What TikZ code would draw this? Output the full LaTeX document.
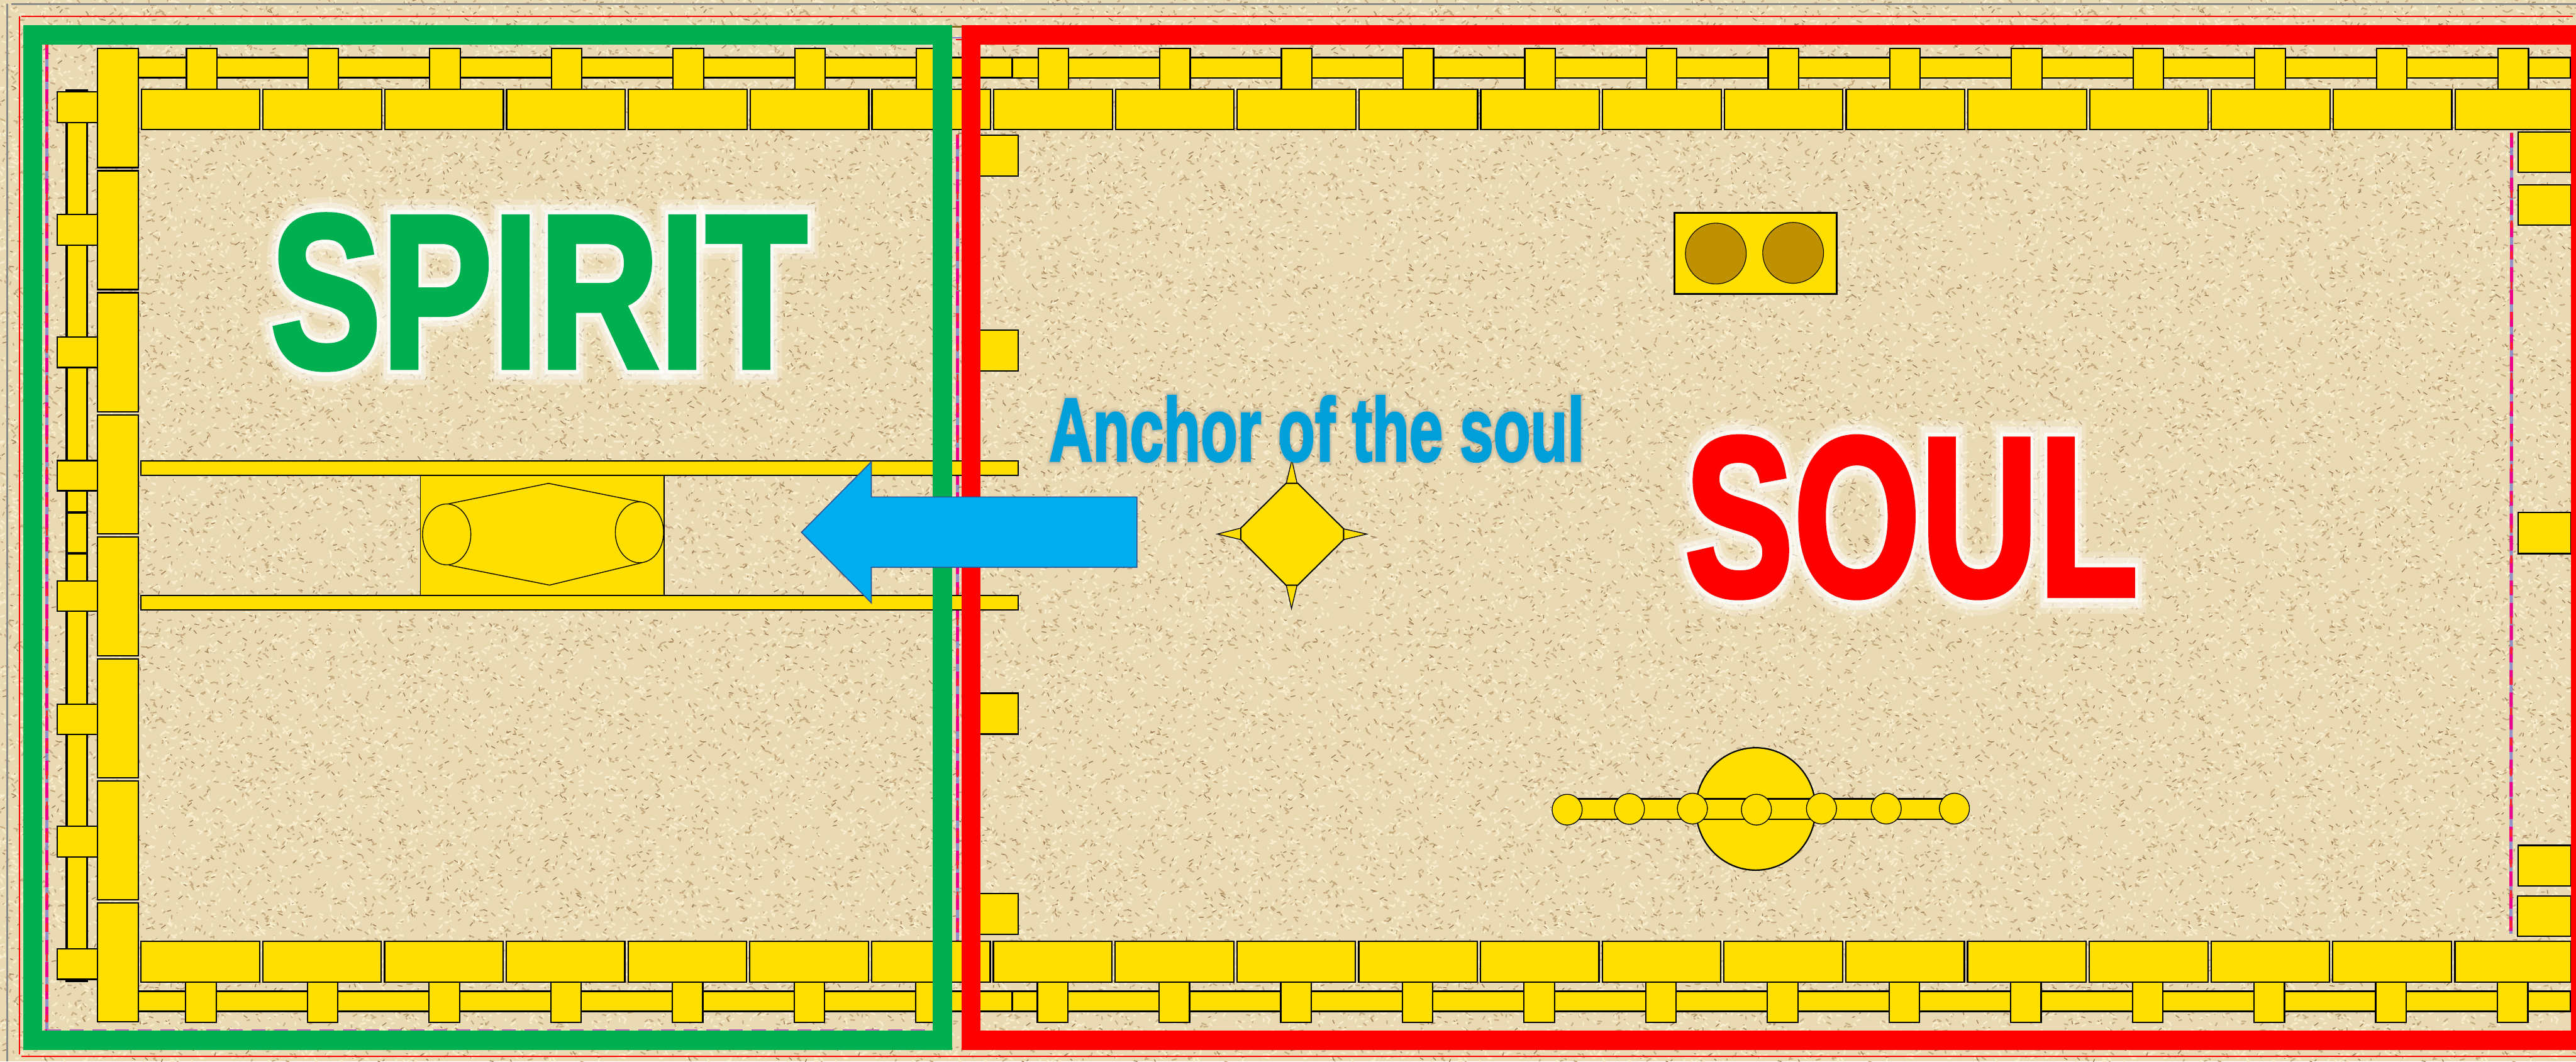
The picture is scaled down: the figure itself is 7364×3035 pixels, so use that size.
\documentclass[tikz,border=0pt]{standalone}
\usepackage{graphicx}
\usepackage{fontspec}
\setmainfont{Liberation Sans}
\newfontfamily\glowa[BoldFeatures={FakeBold=6}]{Liberation Sans}
\newfontfamily\glowb[BoldFeatures={FakeBold=11}]{Liberation Sans}
\newfontfamily\glowc[BoldFeatures={FakeBold=16}]{Liberation Sans}
\newfontfamily\solidf[BoldFeatures={FakeBold=2.4}]{Liberation Sans}
\definecolor{sandbase}{HTML}{EADAB3}
\definecolor{goldy}{HTML}{FFDF00}
\definecolor{framegreen}{HTML}{00B050}
\definecolor{framered}{HTML}{FF0000}
\definecolor{arrowblue}{HTML}{00AEEF}
\definecolor{arrowedge}{HTML}{2F5597}
\definecolor{ancblue}{HTML}{009FD9}
\definecolor{seatbrown}{HTML}{BF9000}
\definecolor{edgegray}{HTML}{8A8A8A}
\newlength{\ux}\setlength{\ux}{0.01cm}
\newsavebox\sandtile
\makeatletter
\newcount\spk
\newcommand\sandspecks[5]{%
 \pgfsys@beginscope
 \pgfsys@invoke{#2 #3 #4 RG }%
 \pgfsys@setlinewidth{#5\ux}%
 \pgfsys@roundcap
 \spk=0
 \loop\ifnum\spk<#1
  \pgfmathrandominteger\spx{0}{1841}%
  \pgfmathrandominteger\spy{0}{1012}%
  \pgfmathrandominteger\spa{-12}{12}%
  \pgfmathrandominteger\spb{-9}{9}%
  \pgfsys@moveto{0.284528\dimexpr\spx pt\relax}{0.284528\dimexpr\spy pt\relax}%
  \pgfsys@lineto{0.284528\dimexpr\numexpr\spx+\spa\relax pt\relax}{0.284528\dimexpr\numexpr\spy+\spb\relax pt\relax}%
  \advance\spk by 1
 \repeat
 \pgfsys@stroke
 \pgfsys@endscope}
\makeatother
\pgfmathsetseed{4711}
\setbox\sandtile=\hbox{\pgfpicture
  \pgfpathrectangle{\pgfpointorigin}{\pgfpoint{1841\ux}{1011.75\ux}}\pgfusepath{use as bounding box}%
  \sandspecks{2000}{0.78}{0.67}{0.50}{4}%
  \sandspecks{600}{0.62}{0.49}{0.33}{2.6}%
  \sandspecks{3000}{0.97}{0.93}{0.80}{5}%
 \endpgfpicture}
\tikzset{
 x=0.01cm,y=-0.01cm,
 gold/.style={draw=black,fill=goldy,line width=4\ux,line join=miter},
 goldthin/.style={draw=black,fill=goldy,line width=3\ux},
 goldfine/.style={draw=black,fill=goldy,line width=2.4\ux},
 lbl/.style={inner sep=0pt,outer sep=0pt,anchor=center},
}
\newcommand\dashline[2]{%
 \draw[line width=9\ux,color=blue!45!gray!70,opacity=.8] #1 -- #2;
 \draw[line width=9\ux,color=magenta,dash pattern=on 42\ux off 22\ux] #1 -- #2;
 \draw[line width=6\ux,color=red!85!white,dash pattern=on 22\ux off 65\ux,dash phase=10\ux] #1 -- #2;
}
\begin{document}
\begin{tikzpicture}
\useasboundingbox (0,0) rectangle (7364,3035);
\fill[sandbase] (0,0) rectangle (7364,3035);
\foreach \i in {0,...,3}\foreach \j in {1,2,3}
  \node[inner sep=0pt,outer sep=0pt,anchor=south west] (tile\i\j) at ({1841*\i},{1011.67*\j}) {\usebox\sandtile};
% outer thin lines
\draw[edgegray,line width=5\ux] (32,11) -- (7364,11);
\draw[edgegray,line width=5\ux] (20,11) -- (20,3035);
\draw[framered,line width=4\ux] (62,47) -- (7355,47);
\draw[framered,line width=4\ux] (56,47) -- (56,3015);
\draw[framered,line width=4\ux] (62,3020) -- (7364,3020);
% dashed enclosure lines
\dashline{(134,127)}{(134,2946)}
\dashline{(2737,384)}{(2737,2690)}
\dashline{(7180,380)}{(7178,2670)}
\draw[magenta!60!blue!60,line width=3\ux,dash pattern=on 40\ux off 25\ux] (134,2945) -- (2667,2945);
\draw[blue!45!gray!70,line width=5\ux] (2722,108) -- (2749,108);
\draw[red,line width=4\ux] (2732,113) -- (2749,113);
\fill[black!45!brown!80!yellow] (2722,73) rectangle (2749,79);
% rear rod
\draw[gold,line width=7\ux] (191,258) rectangle (249,1466);
\draw[gold,line width=7\ux] (191,1466) rectangle (249,1582);
\draw[gold,line width=7\ux] (191,1582) rectangle (249,2804);
% top and bottom rods
\draw[gold,line width=5\ux] (395,164) rectangle (2894,222);
\draw[gold,line width=5\ux] (2894,165) rectangle (7349,223);
\draw[gold,line width=5\ux] (395,2834) rectangle (2894,2892);
\draw[gold,line width=5\ux] (2894,2834) rectangle (7349,2892);
% stubs on the rear
\foreach \yy/\hh in {263/351,613/701,963/1051,1317/1403,1661/1747,2013/2100,2363/2450,2713/2800}
  \draw[gold] (163,\yy) rectangle (278,\hh);
% posts at rear
\foreach \i in {0,...,7}
  \draw[gold] (278,{139+349*\i}) rectangle (395,{479+349*\i});
% pegs
\foreach \i in {0,...,19}{
  \draw[gold] ({533+347.8*\i},139) rectangle ({620+347.8*\i},255);
  \draw[gold] ({531+347.8*\i},2808) rectangle ({618+347.8*\i},2923);
}
% boards
\foreach \i in {0,...,18}{
  \draw[gold] ({404+348.1*\i},255) rectangle ({743+348.1*\i},370);
  \draw[gold] ({403+348.1*\i},2692) rectangle ({742+348.1*\i},2808);
}
\draw[gold] (7019,255) rectangle (7349,370);
\draw[gold] (7018,2692) rectangle (7349,2808);
% centre-line boards
\foreach \yy/\hh in {386/503,944/1061,1982/2099,2555/2672}
  \draw[gold] (2770,\yy) rectangle (2910,\hh);
% right-hand boards
\draw[gold] (7198,378) rectangle (7349,493);
\draw[gold] (7199,528) rectangle (7349,644);
\draw[gold] (7199,1465) rectangle (7349,1583);
\draw[gold] (7199,2417) rectangle (7349,2533);
\draw[gold] (7197,2562) rectangle (7349,2677);
% carrying poles and ark
\draw[goldthin] (1202,1359) rectangle (1899,1703);
\draw[gold,line width=3.5\ux] (403,1317) rectangle (2910,1359);
\draw[gold,line width=3.5\ux] (402,1703) rectangle (2910,1744);
\draw[black,line width=2.5\ux] (1280,1441) -- (1568,1382) -- (1846,1438);
\draw[black,line width=2.5\ux] (1284,1616) -- (1571,1673) -- (1835,1609);
\draw[goldfine] (1277,1528) ellipse (69 and 87);
\draw[goldfine] (1828,1522) ellipse (69 and 87);
% incense altar
\draw[goldfine] (3693,1315) -- (3708,1382) -- (3677,1382) -- cycle;
\draw[goldfine] (3692,1740) -- (3708,1673) -- (3677,1673) -- cycle;
\draw[goldfine] (3480,1527) -- (3547,1510) -- (3547,1543) -- cycle;
\draw[goldfine] (3907,1527) -- (3841,1512) -- (3841,1543) -- cycle;
\draw[gold,line width=3.5\ux] (3676,1382) -- (3710,1382) -- (3841,1512) -- (3841,1543) -- (3710,1673) -- (3676,1673) -- (3547,1543) -- (3547,1510) -- cycle;
% table of shewbread
\draw[gold,line width=5\ux] (4787,608) rectangle (5251,841);
\draw[draw=black,fill=seatbrown,line width=2\ux] (4905,725) ellipse (87 and 87);
\draw[draw=black,fill=seatbrown,line width=2\ux] (5126,723) ellipse (87 and 87);
% lampstand
\draw[gold] (5019,2313) ellipse (171 and 175);
\draw[gold,line width=4\ux] (4480,2284) rectangle (5587,2343);
\foreach \cx/\cy in {4480/2315,4658/2313,4838/2312,5021/2315,5207/2312,5392/2312,5587/2312}
  \draw[goldfine] (\cx,\cy) ellipse (43 and 44);
% frames
\draw[framegreen,line width=55\ux] (93.5,100) rectangle (2694.5,2974);
\draw[framered,line width=55\ux] (2776,100) -- (7380,100);
\draw[framered,line width=55\ux] (2776,72.5) -- (2776,2974.5);
\draw[framered,line width=55\ux] (2748.5,2974.5) -- (7364,2974.5);
\fill[framered] (7349,73) rectangle (7364,3002);
% arrow
\draw[fill=arrowblue,draw=arrowedge,line width=3\ux,line join=miter] (2291,1522) -- (2491,1320) -- (2491,1421) -- (3250,1421) -- (3250,1622) -- (2491,1622) -- (2491,1724) -- cycle;
% labels
\node[lbl,text=white,opacity=.22] (spiritglowc) at (1540,835) {\resizebox{1535\ux}{436\ux}{\glowc\bfseries SPIRIT}};
\node[lbl,text=white,opacity=.4] (spiritglowb) at (1540,835) {\resizebox{1535\ux}{436\ux}{\glowb\bfseries SPIRIT}};
\node[lbl,text=white,opacity=.75] (spiritglowa) at (1540,835) {\resizebox{1535\ux}{436\ux}{\glowa\bfseries SPIRIT}};
\node[lbl,text=framegreen] (spirit) at (1540,835) {\resizebox{1535\ux}{436\ux}{\solidf\bfseries SPIRIT}};
\node[lbl,text=white,opacity=.22] (soulglowc) at (5464,1479) {\resizebox{1295\ux}{452\ux}{\glowc\bfseries SOUL}};
\node[lbl,text=white,opacity=.4] (soulglowb) at (5464,1479) {\resizebox{1295\ux}{452\ux}{\glowb\bfseries SOUL}};
\node[lbl,text=white,opacity=.75] (soulglowa) at (5464,1479) {\resizebox{1295\ux}{452\ux}{\glowa\bfseries SOUL}};
\node[lbl,text=framered] (soul) at (5464,1479) {\resizebox{1295\ux}{452\ux}{\solidf\bfseries SOUL}};
\node[lbl,text=gray,opacity=.12] (ancglowb) at (3764,1226) {\resizebox{1530\ux}{186\ux}{\glowb\bfseries Anchor of the soul}};
\node[lbl,text=gray,opacity=.22] (ancglow) at (3764,1226) {\resizebox{1530\ux}{186\ux}{\glowa\bfseries Anchor of the soul}};
\node[lbl,text=ancblue] (anchor) at (3764,1226) {\resizebox{1530\ux}{186\ux}{\solidf\bfseries Anchor of the soul}};
\end{tikzpicture}
\end{document}
